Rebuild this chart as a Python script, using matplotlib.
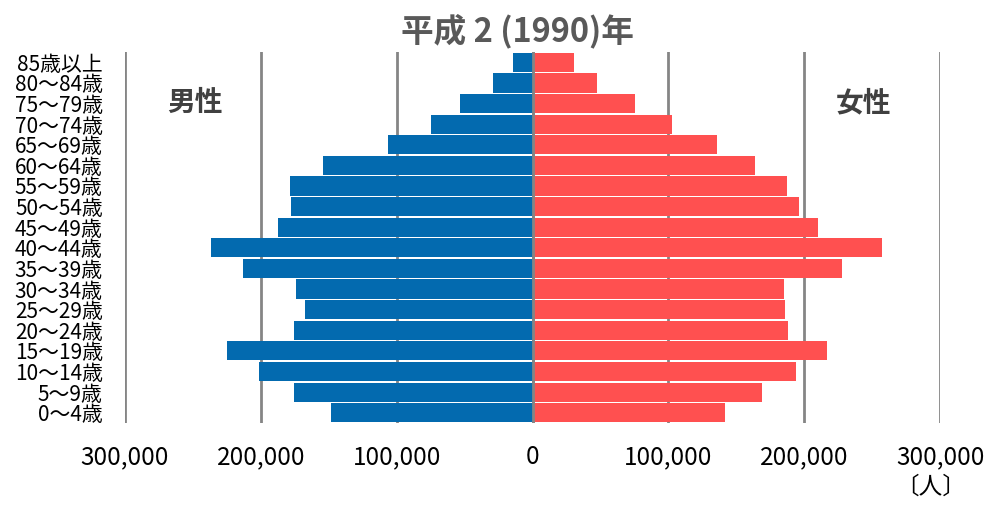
import matplotlib
matplotlib.use("Agg")
import matplotlib.pyplot as plt
from matplotlib.ticker import FuncFormatter

plt.rcParams['font.family'] = ['Noto Sans CJK JP', 'DejaVu Sans']

age_groups = ["0〜4歳", "5〜9歳", "10〜14歳", "15〜19歳", "20〜24歳", "25〜29歳",
              "30〜34歳", "35〜39歳", "40〜44歳", "45〜49歳", "50〜54歳", "55〜59歳",
              "60〜64歳", "65〜69歳", "70〜74歳", "75〜79歳", "80〜84歳", "85歳以上"]
male = [148600, 175700, 201500, 225000, 175700, 167600, 174300, 213200, 236800,
        187600, 177900, 178700, 154400, 106600, 75000, 53700, 29400, 14700]
female = [141800, 169000, 193900, 216700, 188100, 186000, 185100, 227700, 257000,
          210100, 196100, 187300, 163800, 136000, 102900, 75800, 47100, 30300]
x_ticks = [-300000, -200000, -100000, 0, 100000, 200000, 300000]

fig = plt.figure(figsize=(9.99, 5.17), dpi=100)
ax = fig.add_axes([0.1251, 0.1818, 0.8159, 0.7176])

y = list(range(len(age_groups)))
for xv in x_ticks:
    ax.axvline(xv, color="#858585", lw=2.0, zorder=1)
ax.barh(y, [-m for m in male], height=0.93, color="#036AAF", zorder=2)
ax.barh(y, female, height=0.93, color="#FF5050", zorder=2)
ax.axvline(0, color="#858585", lw=2.0, zorder=3)

ax.set_xlim(-300000, 300000)
ax.set_ylim(-0.5, len(age_groups) - 0.5)
ax.set_xticks(x_ticks)
ax.xaxis.set_major_formatter(FuncFormatter(lambda v, p: f"{abs(int(v)):,}"))
ax.set_yticks(y)
ax.set_yticklabels(age_groups)
ax.tick_params(axis="both", length=0, colors="black")
ax.tick_params(axis="x", pad=15, labelsize=17.5)
ax.tick_params(axis="y", pad=16, labelsize=15)
for s in ax.spines.values():
    s.set_visible(False)

fig.text(0.518, 0.94, "平成 2 (1990)年", ha="center", va="center",
         fontsize=23.5, fontweight="bold", color="#595959")
fig.text(0.195, 0.80, "男性", ha="center", va="center", fontsize=20,
         fontweight="bold", color="#404040")
fig.text(0.864, 0.80, "女性", ha="center", va="center", fontsize=20,
         fontweight="bold", color="#404040")
fig.text(0.932, 0.058, "〔人〕", ha="center", va="center", fontsize=17, color="black")

fig.savefig("out.png", dpi=100)
